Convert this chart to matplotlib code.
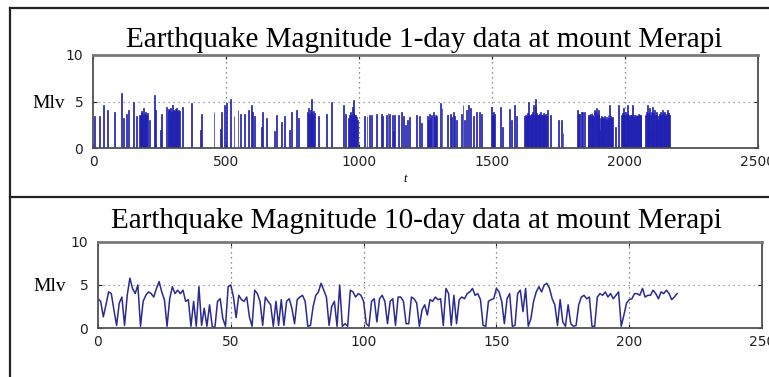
import matplotlib
matplotlib.use('Agg')
import matplotlib.pyplot as plt
from matplotlib.lines import Line2D

# 1-day data: day index and magnitude (Mlv)
day_1d = [6, 25, 38, 54, 81, 106, 115, 125, 135, 154, 163, 175, 178, 181, 184, 187, 190, 193, 196, 199,
          202, 205, 213, 230, 234, 254, 259, 276, 282, 285, 288, 291, 294, 297, 300, 303, 306, 309, 312, 315,
          318, 322, 326, 338, 370, 405, 408, 455, 480, 483, 495, 501, 518, 530, 545, 555, 568, 583, 595, 599,
          608, 633, 637, 654, 683, 689, 708, 721, 739, 746, 764, 771, 808, 811, 814, 817, 820, 823, 826, 829,
          833, 846, 877, 896, 942, 950, 962, 966, 969, 972, 975, 978, 981, 984, 987, 990, 994, 1021, 1030, 1040,
          1046, 1065, 1084, 1090, 1103, 1109, 1115, 1125, 1130, 1134, 1147, 1159, 1168, 1175, 1184, 1191, 1216, 1228, 1235, 1257,
          1262, 1266, 1270, 1274, 1279, 1283, 1287, 1291, 1307, 1312, 1332, 1345, 1349, 1354, 1360, 1366, 1385, 1391, 1398, 1404,
          1413, 1420, 1429, 1441, 1454, 1460, 1498, 1501, 1504, 1507, 1510, 1533, 1538, 1567, 1573, 1585, 1592, 1623, 1626, 1629,
          1632, 1635, 1638, 1641, 1644, 1647, 1650, 1653, 1656, 1659, 1662, 1665, 1668, 1671, 1674, 1677, 1680, 1683, 1686, 1689,
          1692, 1695, 1698, 1701, 1704, 1708, 1721, 1751, 1761, 1767, 1821, 1826, 1830, 1836, 1841, 1846, 1861, 1864, 1867, 1870,
          1873, 1876, 1879, 1882, 1886, 1889, 1892, 1895, 1899, 1902, 1905, 1908, 1911, 1914, 1917, 1920, 1923, 1926, 1930, 1933,
          1936, 1939, 1943, 1946, 1949, 1953, 1965, 1974, 1987, 1990, 1993, 1996, 1999, 2002, 2005, 2008, 2011, 2014, 2018, 2021,
          2024, 2027, 2030, 2033, 2036, 2039, 2042, 2045, 2048, 2051, 2054, 2057, 2060, 2078, 2081, 2084, 2087, 2090, 2093, 2096,
          2099, 2102, 2105, 2108, 2111, 2114, 2117, 2120, 2123, 2126, 2129, 2132, 2135, 2138, 2141, 2144, 2147, 2150, 2153, 2156,
          2159, 2162, 2165, 2168]
mlv_1d = [3.4, 3.4, 4.6, 4.1, 3.9, 5.9, 3.2, 3.7, 4.1, 4.9, 3.4, 3.6, 3.4, 4.0, 3.8, 3.5, 4.3, 3.7, 3.9, 3.6,
          3.5, 3.8, 3.0, 5.7, 4.1, 1.9, 3.7, 4.4, 4.0, 4.2, 4.1, 4.3, 3.9, 4.0, 4.6, 4.1, 4.0, 4.2, 3.9, 4.3,
          4.0, 4.1, 4.0, 4.4, 4.8, 1.9, 3.7, 3.9, 2.0, 3.9, 4.6, 4.8, 5.3, 3.4, 4.1, 3.7, 3.7, 4.1, 4.6, 3.9,
          3.4, 2.3, 3.9, 3.2, 1.8, 3.5, 2.8, 3.4, 1.9, 3.9, 4.1, 3.2, 3.9, 4.3, 3.7, 4.1, 5.3, 3.9, 3.7, 4.0,
          3.8, 3.4, 3.7, 5.0, 4.6, 3.7, 3.2, 3.6, 3.9, 3.5, 4.4, 3.8, 5.2, 3.6, 3.5, 3.3, 3.0, 3.4, 3.4, 3.5,
          3.5, 3.7, 3.7, 3.4, 3.6, 3.8, 3.7, 3.5, 1.8, 3.5, 3.6, 3.9, 3.4, 2.5, 3.0, 3.3, 3.5, 3.4, 2.7, 3.4,
          3.0, 3.7, 3.2, 3.6, 3.9, 3.3, 3.5, 3.4, 4.8, 4.3, 3.5, 3.7, 3.3, 3.9, 3.4, 3.0, 3.7, 4.6, 3.0, 4.1,
          4.6, 4.3, 3.4, 3.9, 3.9, 3.7, 4.4, 3.6, 3.9, 3.4, 3.7, 4.4, 2.3, 4.2, 3.0, 4.6, 3.4, 3.4, 3.6, 3.3,
          3.5, 3.8, 5.0, 3.6, 3.4, 3.7, 3.5, 3.9, 4.6, 3.6, 5.3, 4.4, 3.8, 3.6, 3.5, 3.7, 3.4, 3.9, 3.5, 3.6,
          3.4, 3.8, 3.5, 3.7, 3.4, 4.1, 3.5, 3.0, 3.0, 1.6, 4.1, 3.7, 3.7, 3.9, 3.9, 3.9, 3.4, 3.6, 3.5, 3.7,
          3.4, 3.8, 3.5, 3.3, 4.1, 3.9, 4.3, 3.7, 4.1, 3.5, 1.9, 3.2, 3.4, 3.0, 3.3, 3.2, 3.4, 3.1, 3.3, 3.0,
          3.5, 3.2, 4.6, 3.4, 3.2, 3.3, 2.3, 4.6, 3.6, 3.8, 4.3, 3.7, 3.5, 3.9, 3.6, 3.7, 4.6, 3.5, 3.4, 3.6,
          3.5, 4.6, 3.4, 3.5, 3.3, 3.6, 3.4, 3.5, 3.4, 3.7, 3.5, 3.4, 3.5, 3.6, 3.9, 4.6, 3.7, 3.8, 4.3, 3.6,
          3.9, 4.4, 1.9, 3.8, 4.1, 3.5, 3.9, 3.6, 3.0, 3.4, 3.7, 3.9, 3.6, 3.5, 4.1, 3.8, 3.6, 3.9, 3.4, 3.7,
          4.1, 3.6, 3.8, 3.5]

# 10-day data: one value per 10-day step (index 0..218)
mlv_10d = [3.4, 3.1, 1.3, 2.7, 4.2, 4.0, 2.1, 0.3, 2.9, 3.6,
           0.3, 3.8, 5.8, 4.6, 4.0, 5.0, 0.2, 3.1, 3.8, 4.2,
           4.0, 3.6, 4.6, 5.4, 4.2, 3.3, 0.2, 3.4, 4.8, 4.0,
           4.4, 4.0, 4.4, 3.1, 3.3, 0.2, 3.1, 0.2, 4.8, 0.3,
           2.3, 0.2, 2.7, 0.2, 0.0, 3.1, 3.4, 1.1, 0.2, 4.8,
           5.0, 3.6, 1.2, 3.8, 3.3, 3.1, 3.6, 1.3, 0.2, 4.4,
           4.0, 3.1, 0.3, 3.6, 3.1, 2.7, 0.2, 3.1, 0.3, 3.3,
           0.3, 3.1, 3.4, 2.3, 0.5, 3.3, 3.6, 3.8, 3.1, 0.2,
           0.3, 2.5, 3.8, 4.2, 5.2, 4.4, 3.6, 0.3, 2.5, 3.1,
           0.2, 5.0, 0.2, 0.5, 0.2, 4.4, 4.2, 3.6, 4.0, 3.8,
           3.1, 0.5, 0.2, 3.1, 3.4, 0.7, 3.4, 3.8, 3.1, 0.5,
           3.1, 3.4, 0.3, 3.6, 3.6, 3.1, 0.5, 0.5, 3.6, 3.4,
           2.9, 0.2, 2.1, 2.7, 1.5, 3.3, 3.1, 3.6, 3.3, 3.4,
           0.3, 4.6, 4.0, 0.3, 3.8, 0.5, 3.3, 3.6, 3.4, 4.0,
           4.2, 4.6, 3.8, 4.0, 3.3, 0.3, 0.2, 3.1, 3.3, 3.4,
           4.6, 4.2, 3.1, 0.5, 3.4, 4.0, 0.2, 0.3, 4.0, 4.4,
           1.9, 4.6, 0.2, 1.1, 3.1, 4.2, 4.8, 4.2, 5.0, 5.2,
           4.6, 3.4, 2.7, 0.3, 3.3, 0.7, 0.2, 2.7, 0.5, 0.2,
           0.3, 2.7, 3.6, 3.8, 3.4, 3.6, 0.2, 0.2, 3.6, 4.0,
           3.8, 4.2, 3.6, 4.0, 3.4, 3.8, 4.2, 0.2, 1.5, 2.9,
           3.3, 3.4, 4.0, 4.0, 3.8, 4.6, 3.6, 3.8, 3.8, 4.4,
           4.0, 3.4, 4.2, 4.0, 4.4, 4.0, 3.3, 3.6, 4.0]

x_ticks_1d = [0, 500, 1000, 1500, 2000, 2500]
x_ticks_10d = [0, 50, 100, 150, 200, 250]
y_ticks = [0, 5, 10]

W, H = 769, 377
fig = plt.figure(figsize=(W / 100, H / 100), dpi=100)
fig.patch.set_facecolor('white')

def px_ax(x0, x1, y0, y1):
    # axes rectangle from pixel box (top-left origin)
    return fig.add_axes([x0 / W, 1 - y1 / H, (x1 - x0) / W, (y1 - y0) / H])

def style_axes(ax, xticks, xmax):
    ax.set_xlim(0, xmax)
    ax.set_ylim(0, 10)
    ax.set_xticks(xticks)
    ax.set_yticks(y_ticks)
    ax.tick_params(direction='in', length=3, width=0.8, top=True, right=True,
                   labelsize=10, colors='#222222')
    ax.tick_params(axis='x', pad=5)
    ax.tick_params(axis='y', pad=7)
    for s in ax.spines.values():
        s.set_color('#505050')
        s.set_linewidth(1.3)
    ax.spines['top'].set_linewidth(2.0)
    ax.spines['top'].set_color('#7a7a7a')
    for xv in xticks[1:-1]:
        ax.axvline(xv, color='#666666', lw=0.9, ls=(0, (1, 3)), zorder=0)
    ax.axhline(5, color='#888888', lw=0.9, ls=(0, (1, 3)), zorder=0)

serif = 'Liberation Serif'

# top panel: 1-day bars
ax1 = px_ax(93, 758, 55, 148)
style_axes(ax1, x_ticks_1d, 2500)
ax1.bar(day_1d, mlv_1d, width=3.5, color='#1414dc', edgecolor='#2222a8',
        linewidth=0.5, zorder=2)
ax1.set_ylabel('Mlv', family=serif, fontsize=14, rotation=0, ha='right', va='center')
ax1.yaxis.set_label_coords(-0.042, 0.48)

# bottom panel: 10-day line
ax2 = px_ax(98, 762, 242, 328)
style_axes(ax2, x_ticks_10d, 250)
ax2.plot(range(len(mlv_10d)), mlv_10d, color='#2a2a92', lw=1.1, zorder=2)
ax2.set_ylabel('Mlv', family=serif, fontsize=14, rotation=0, ha='right', va='center')
ax2.yaxis.set_label_coords(-0.048, 0.48)

fig.text(424 / W, 1 - 47 / H, 'Earthquake Magnitude 1-day data at mount Merapi',
         family=serif, fontsize=21, ha='center', va='baseline')
fig.text(416 / W, 1 - 228 / H, 'Earthquake Magnitude 10-day data at mount Merapi',
         family=serif, fontsize=21, ha='center', va='baseline')
fig.text(405 / W, 1 - 182 / H, 't', family=serif, style='italic', fontsize=9,
         ha='center', va='baseline')

# scan frame lines
frame = dict(color='#222222', lw=1.6, transform=fig.transFigure)
fig.add_artist(Line2D([10 / W, 1], [1 - 8 / H, 1 - 8 / H], **frame))
fig.add_artist(Line2D([10 / W, 10 / W], [0, 1 - 8 / H], **frame))
fig.add_artist(Line2D([10 / W, 1], [1 - 197 / H, 1 - 197 / H], **frame))

fig.savefig('out.png', dpi=100)
